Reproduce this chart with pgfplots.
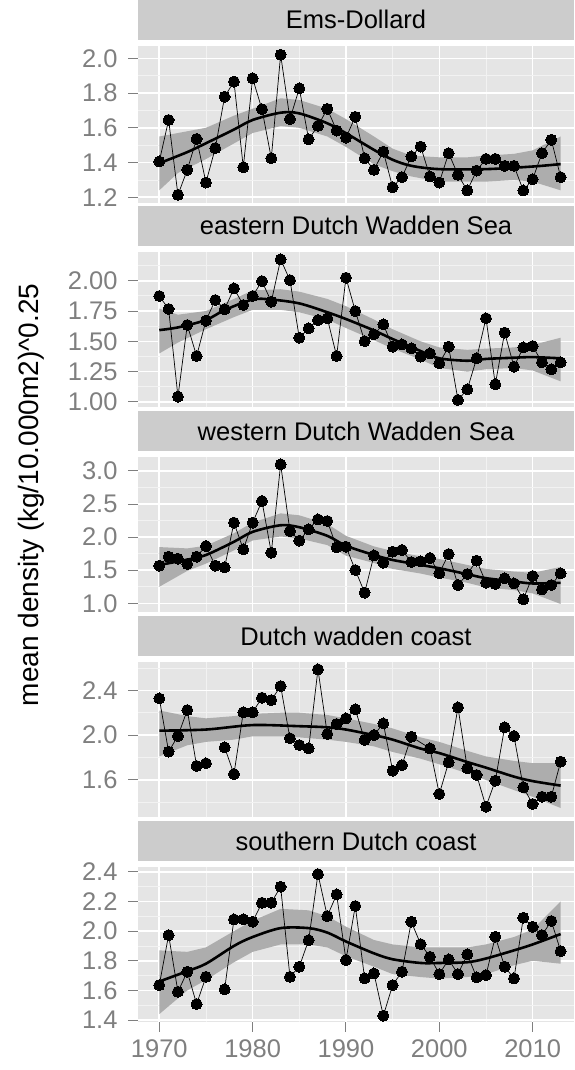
\documentclass[border=0pt]{standalone}
\usepackage{fontspec}
\setmainfont{Liberation Sans}
\usepackage{pgfplots}
\usepackage{pgfplotstable}
\pgfplotsset{compat=1.18}
\definecolor{panelbg}{HTML}{E5E5E5}
\definecolor{stripbg}{HTML}{CCCCCC}
\definecolor{gridminor}{HTML}{F2F2F2}
\definecolor{tickgrey}{HTML}{7F7F7F}
\definecolor{ribbon}{HTML}{ADADAD}

\pgfplotstableread{
year v
1970 1.406
1971 1.645
1972 1.214
1973 1.358
1974 1.536
1975 1.285
1976 1.483
1977 1.779
1978 1.866
1979 1.373
1980 1.885
1981 1.707
1982 1.425
1983 2.021
1984 1.651
1985 1.827
1986 1.534
1987 1.611
1988 1.709
1989 1.584
1990 1.544
1991 1.663
1992 1.425
1993 1.358
1994 1.463
1995 1.258
1996 1.316
1997 1.435
1998 1.492
1999 1.320
2000 1.285
2001 1.454
2002 1.329
2003 1.239
2004 1.354
2005 1.421
2006 1.421
2007 1.381
2008 1.381
2009 1.239
2010 1.304
2011 1.454
2012 1.531
2013 1.316
}\dataA

\pgfplotstableread{
year v
1970 1.874
1971 1.767
1972 1.044
1973 1.635
1974 1.379
1975 1.671
1976 1.841
1977 1.764
1978 1.937
1979 1.800
1980 1.874
1981 1.997
1982 1.827
1983 2.176
1984 2.005
1985 1.530
1986 1.607
1987 1.676
1988 1.690
1989 1.379
1990 2.025
1991 1.750
1992 1.502
1993 1.558
1994 1.640
1995 1.456
1996 1.475
1997 1.442
1998 1.374
1999 1.401
2000 1.319
2001 1.456
2002 1.017
2003 1.104
2004 1.360
2005 1.690
2006 1.146
2007 1.572
2008 1.291
2009 1.450
2010 1.461
2011 1.327
2012 1.269
2013 1.327
}\dataB

\pgfplotstableread{
year v
1970 1.569
1971 1.705
1972 1.675
1973 1.594
1974 1.705
1975 1.866
1976 1.569
1977 1.544
1978 2.219
1979 1.816
1980 2.219
1981 2.546
1982 1.765
1983 3.101
1984 2.093
1985 1.947
1986 2.118
1987 2.269
1988 2.244
1989 1.846
1990 1.856
1991 1.503
1992 1.161
1993 1.725
1994 1.614
1995 1.781
1996 1.806
1997 1.624
1998 1.634
1999 1.685
2000 1.453
2001 1.745
2002 1.277
2003 1.443
2004 1.645
2005 1.312
2006 1.292
2007 1.377
2008 1.302
2009 1.060
2010 1.413
2011 1.211
2012 1.277
2013 1.453
}\dataC

\pgfplotstableread{
year v
1970 2.328
1971 1.853
1972 1.993
1973 2.224
1974 1.725
1975 1.749
1976 nan
1977 1.891
1978 1.653
1979 2.204
1980 2.204
1981 2.334
1982 2.313
1983 2.438
1984 1.972
1985 1.912
1986 1.882
1987 2.587
1988 2.010
1989 2.100
1990 2.150
1991 2.230
1992 1.957
1993 2.001
1994 2.105
1995 1.683
1996 1.733
1997 1.986
1999 1.882
2000 1.475
2001 1.758
2002 2.248
2003 1.704
2004 1.645
2005 1.362
2006 1.594
2007 2.070
2008 1.992
2009 1.535
2010 1.386
2011 1.451
2012 1.451
2013 1.764
}\dataD

\pgfplotstableread{
year v
1970 1.636
1971 1.973
1972 1.591
1973 1.726
1974 1.508
1975 1.692
1976 nan
1977 1.607
1978 2.079
1979 2.079
1980 2.063
1981 2.191
1982 2.191
1983 2.299
1984 1.692
1985 1.760
1986 1.939
1987 2.384
1988 2.101
1989 2.247
1990 1.805
1991 2.169
1992 1.681
1993 1.715
1994 1.429
1995 1.636
1996 1.726
1997 2.063
1998 1.912
1999 1.827
2000 1.710
2001 1.809
2002 1.710
2003 1.843
2004 1.688
2005 1.703
2006 1.962
2007 1.760
2008 1.681
2009 2.090
2010 2.029
2011 1.973
2012 2.068
2013 1.865
}\dataE

\pgfplotsset{
  facet/.style={
    scale only axis, width=436pt,
    xmin=1967.72, xmax=2014.43,
    axis background/.style={fill=panelbg},
    axis line style={draw=none},
    grid=both,
    major grid style={white, line width=1.6pt},
    minor grid style={color=gridminor, line width=0.8pt},
    xtick={1970,1980,1990,2000,2010},
    minor xtick={1975,1985,1995,2005},
    tick align=outside, tick pos=left,
    major tick length=10pt, minor tick length=0pt,
    tick style={color=tickgrey, line width=1pt},
    ticklabel style={font=\fontsize{25.5}{25.5}\selectfont, color=tickgrey},
    yticklabel style={xshift=-7pt},
    xticklabel style={yshift=-4pt},
    /pgf/number format/assume math mode=true,
    /pgf/number format/1000 sep={},
    title style={at={(0.5,1)}, anchor=south, fill=stripbg, minimum width=436pt,
      minimum height=40pt, inner sep=0pt, yshift=0pt,
      font=\fontsize{25.5}{25.5}\selectfont, text=black},
    clip=true,
  },
  noxlabels/.style={xticklabels={}, xtick style={draw=none}},
  prec/.style={yticklabel style={/pgf/number format/.cd, fixed, fixed zerofill, precision=#1}},
  datastyle/.style={black, line width=0.7pt, mark=*, mark size=5.5pt,
      mark options={fill=black, line width=0pt}, unbounded coords=jump},
  smoothstyle/.style={black, line width=2.6pt, smooth, tension=0.5, no marks},
  ribbonstyle/.style={fill=ribbon, draw=none, no marks},
}

\begin{document}
\begin{tikzpicture}
\useasboundingbox (0,0) rectangle (574pt,-1070pt);

% Panel 1
\begin{axis}[facet, noxlabels, prec=1, at={(138pt,-46pt)}, anchor=north west,
  height=157pt, ymin=1.167, ymax=2.071,
  ytick={1.2,1.4,1.6,1.8,2.0}, minor ytick={1.3,1.5,1.7,1.9},
  title={Ems-Dollard}]
\addplot[ribbonstyle] coordinates {(1970,1.55)(1972,1.57)(1975,1.60)(1978,1.67)(1980,1.71)(1983,1.77)(1985,1.76)(1988,1.71)(1990,1.65)(1993,1.55)(1995,1.48)(1997,1.44)(2000,1.43)(2003,1.43)(2005,1.44)(2008,1.45)(2010,1.47)(2013,1.55)
 (2013,1.24)(2010,1.29)(2008,1.30)(2005,1.29)(2003,1.29)(2000,1.29)(1997,1.32)(1995,1.35)(1993,1.39)(1990,1.49)(1988,1.55)(1985,1.60)(1983,1.61)(1980,1.57)(1978,1.51)(1975,1.42)(1972,1.34)(1970,1.24)};
\addplot[smoothstyle] coordinates {(1970,1.396)(1973,1.46)(1975,1.511)(1978,1.59)(1980,1.645)(1983,1.687)(1985,1.683)(1988,1.626)(1990,1.569)(1993,1.473)(1995,1.416)(1997,1.381)(2000,1.362)(2005,1.362)(2010,1.377)(2013,1.391)};
\addplot[datastyle] table[x=year,y=v] {\dataA};
\end{axis}

% Panel 2
\begin{axis}[facet, noxlabels, prec=2, at={(138pt,-252pt)}, anchor=north west,
  height=155.3pt, ymin=0.956, ymax=2.237,
  ytick={1,1.25,1.5,1.75,2}, minor ytick={1.125,1.375,1.625,1.875,2.125},
  title={eastern Dutch Wadden Sea}]
\addplot[ribbonstyle] coordinates {(1970,1.77)(1972,1.72)(1975,1.75)(1978,1.85)(1980,1.92)(1983,1.93)(1985,1.91)(1988,1.85)(1990,1.79)(1993,1.68)(1995,1.60)(1998,1.50)(2000,1.45)(2003,1.43)(2005,1.44)(2008,1.45)(2010,1.47)(2013,1.53)
 (2013,1.17)(2010,1.26)(2008,1.28)(2005,1.27)(2003,1.25)(2000,1.28)(1998,1.35)(1995,1.44)(1993,1.51)(1990,1.61)(1988,1.68)(1985,1.74)(1983,1.76)(1980,1.76)(1978,1.70)(1975,1.60)(1972,1.49)(1970,1.40)};
\addplot[smoothstyle] coordinates {(1970,1.593)(1972,1.615)(1975,1.676)(1977,1.758)(1980,1.845)(1982,1.845)(1985,1.813)(1988,1.74)(1990,1.684)(1993,1.59)(1995,1.519)(1998,1.42)(2000,1.36)(2003,1.34)(2005,1.355)(2008,1.365)(2010,1.37)(2013,1.36)};
\addplot[datastyle] table[x=year,y=v] {\dataB};
\end{axis}

% Panel 3
\begin{axis}[facet, noxlabels, prec=1, at={(138pt,-457.3pt)}, anchor=north west,
  height=155pt, ymin=0.864, ymax=3.207,
  ytick={1,1.5,2,2.5,3}, minor ytick={1.25,1.75,2.25,2.75},
  title={western Dutch Wadden Sea}]
\addplot[ribbonstyle] coordinates {(1970,1.85)(1973,1.83)(1975,1.87)(1978,2.06)(1980,2.22)(1983,2.36)(1985,2.33)(1988,2.20)(1990,2.02)(1993,1.86)(1995,1.79)(1998,1.71)(2000,1.67)(2003,1.58)(2005,1.52)(2008,1.48)(2010,1.46)(2013,1.55)
 (2013,0.99)(2010,1.15)(2008,1.20)(2005,1.24)(2003,1.31)(2000,1.39)(1998,1.45)(1995,1.52)(1993,1.61)(1990,1.72)(1988,1.88)(1985,1.98)(1983,2.01)(1980,1.95)(1978,1.80)(1975,1.60)(1973,1.49)(1970,1.25)};
\addplot[smoothstyle] coordinates {(1970,1.58)(1973,1.66)(1975,1.73)(1978,1.93)(1980,2.08)(1983,2.18)(1985,2.15)(1988,2.02)(1990,1.87)(1993,1.73)(1995,1.655)(1998,1.58)(2000,1.53)(2003,1.44)(2005,1.38)(2008,1.33)(2010,1.30)(2013,1.31)};
\addplot[datastyle] table[x=year,y=v] {\dataC};
\end{axis}

% Panel 4
\begin{axis}[facet, noxlabels, prec=1, at={(138pt,-662.3pt)}, anchor=north west,
  height=155pt, ymin=1.267, ymax=2.65,
  ytick={1.6,2.0,2.4}, minor ytick={1.4,1.8,2.2,2.6},
  title={Dutch wadden coast}]
\addplot[ribbonstyle] coordinates {(1970,2.22)(1973,2.17)(1975,2.15)(1978,2.17)(1980,2.19)(1983,2.20)(1985,2.20)(1988,2.18)(1990,2.15)(1993,2.10)(1995,2.06)(1998,1.98)(2000,1.94)(2003,1.86)(2005,1.81)(2008,1.77)(2010,1.75)(2013,1.75)
 (2013,1.35)(2010,1.45)(2008,1.51)(2005,1.60)(2003,1.66)(2000,1.74)(1998,1.79)(1995,1.85)(1993,1.90)(1990,1.94)(1988,1.96)(1985,1.98)(1983,1.99)(1980,1.99)(1978,1.96)(1975,1.94)(1973,1.91)(1970,1.81)};
\addplot[smoothstyle] coordinates {(1970,2.04)(1975,2.05)(1980,2.09)(1985,2.08)(1988,2.07)(1990,2.05)(1993,2.00)(1995,1.96)(1998,1.88)(2000,1.84)(2003,1.76)(2005,1.71)(2008,1.63)(2010,1.59)(2013,1.55)};
\addplot[datastyle] table[x=year,y=v] {\dataD};
\end{axis}

% Panel 5
\begin{axis}[facet, prec=1, at={(138pt,-867.3pt)}, anchor=north west,
  height=154.4pt, ymin=1.389, ymax=2.43,
  ytick={1.4,1.6,1.8,2.0,2.2,2.4}, minor ytick={1.5,1.7,1.9,2.1,2.3},
  title={southern Dutch coast}]
\addplot[ribbonstyle] coordinates {(1970,1.87)(1973,1.86)(1975,1.89)(1978,2.00)(1980,2.07)(1983,2.15)(1986,2.14)(1988,2.10)(1990,2.03)(1993,1.94)(1995,1.91)(1998,1.89)(2000,1.89)(2003,1.89)(2005,1.91)(2008,1.96)(2010,2.01)(2013,2.20)
 (2013,1.78)(2010,1.80)(2008,1.77)(2005,1.71)(2003,1.69)(2000,1.68)(1998,1.69)(1995,1.71)(1993,1.76)(1990,1.83)(1988,1.89)(1986,1.91)(1983,1.91)(1980,1.86)(1978,1.79)(1975,1.67)(1973,1.60)(1970,1.44)};
\addplot[smoothstyle] coordinates {(1970,1.66)(1973,1.73)(1975,1.78)(1978,1.90)(1980,1.96)(1983,2.02)(1986,2.02)(1988,1.99)(1990,1.93)(1993,1.85)(1995,1.81)(1998,1.785)(2000,1.785)(2003,1.79)(2005,1.815)(2008,1.87)(2010,1.91)(2013,1.98)};
\addplot[datastyle] table[x=year,y=v] {\dataE};
\end{axis}

\node[rotate=90, font=\fontsize{28}{28}\selectfont, text=black] at (31pt,-495pt) {mean density (kg/10.000m2)\textasciicircum0.25};
\end{tikzpicture}
\end{document}
